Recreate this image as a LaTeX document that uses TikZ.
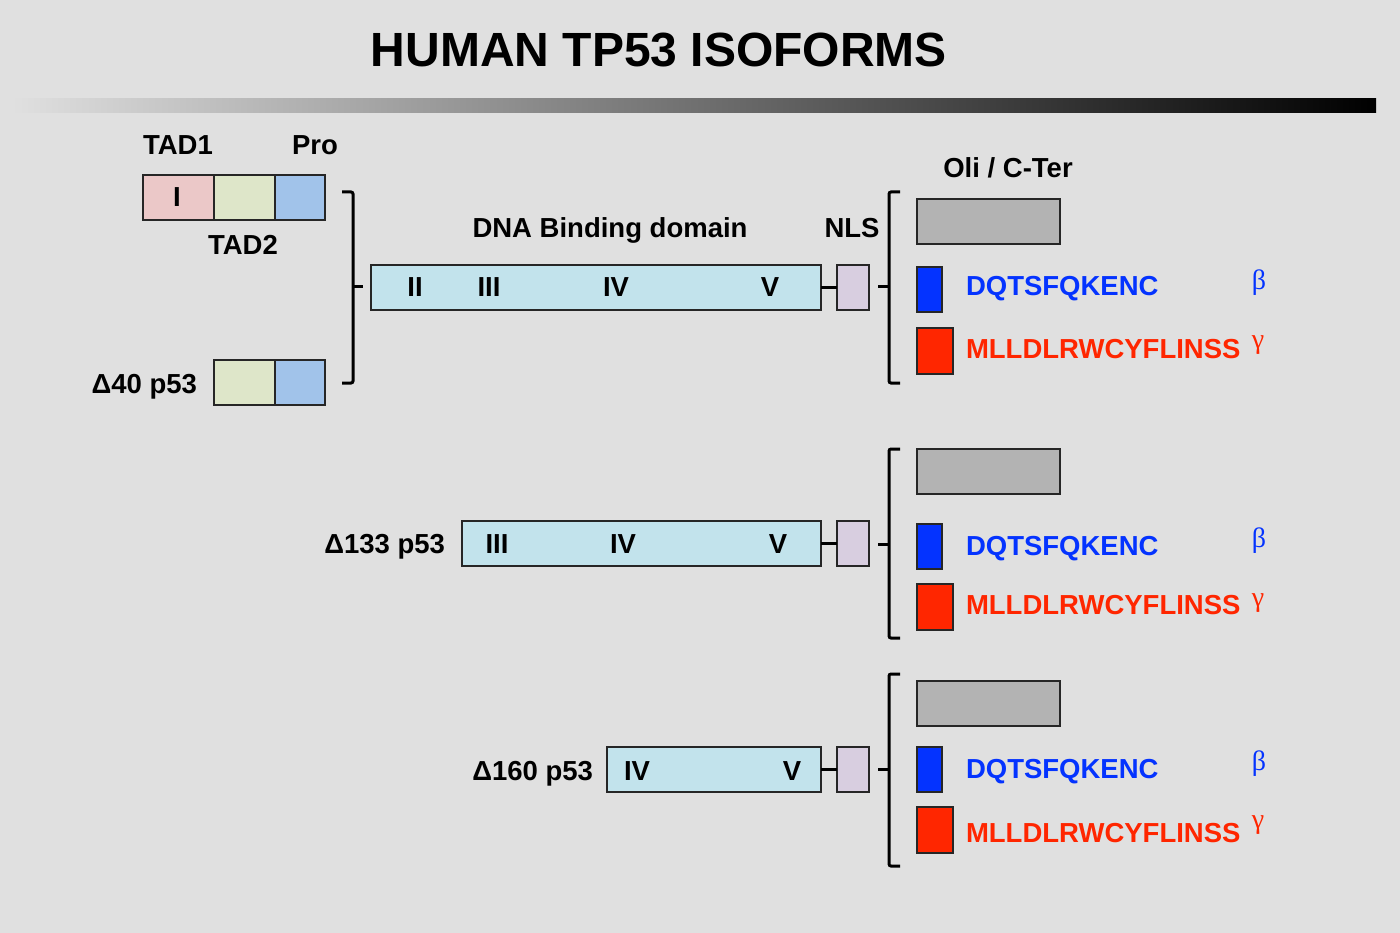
\documentclass[tikz,border=0pt]{standalone}
\usepackage{fontspec}
\setmainfont{Liberation Sans}
\newfontfamily\grk{Liberation Serif}
\definecolor{bgc}{RGB}{224,224,224}
\definecolor{pinkc}{RGB}{235,200,200}
\definecolor{greenc}{RGB}{222,230,201}
\definecolor{proc}{RGB}{161,195,234}
\definecolor{dnac}{RGB}{194,227,236}
\definecolor{nlsc}{RGB}{216,206,224}
\definecolor{grayc}{RGB}{179,179,179}
\definecolor{bluec}{RGB}{4,51,255}
\definecolor{redc}{RGB}{255,38,0}
\begin{document}
\begin{tikzpicture}[x=1pt,y=-1pt,
  box/.style={draw=black!85, line width=1.2pt, inner sep=0pt, outer sep=0pt, anchor=north west},
  lbl/.style={font=\bfseries\fontsize{27.5}{32}\selectfont, inner sep=0pt, outer sep=0pt},
  grklbl/.style={font=\grk\fontsize{28}{32}\selectfont, inner sep=0pt, outer sep=0pt, anchor=base},
  brk/.style={line width=3pt, rounded corners=2pt},
  link/.style={line width=3pt}]
\fill[bgc] (0,0) rectangle (1400,933);
\useasboundingbox (0,0) rectangle (1400,933);
% title
\node[font=\bfseries\fontsize{48}{56}\selectfont, inner sep=0pt, anchor=base] (title) at (659,67) {HUMAN TP53 ISOFORMS};
\shade[left color=bgc, right color=black] (12,99) rectangle (1376,113);
% N-terminal domains
\node[box, fill=pinkc, minimum width=71, minimum height=45] (tad1) at (143,175) {};
\node[box, fill=greenc, minimum width=61, minimum height=45] (tad2) at (214,175) {};
\node[box, fill=proc, minimum width=50, minimum height=45] (pro) at (275,175) {};
\node[lbl, anchor=base] (tI) at (177,207) {I};
\node[lbl, anchor=base] (tad1l) at (178,155) {TAD1};
\node[lbl, anchor=base] (prol) at (315,155) {Pro};
\node[lbl, anchor=base] (tad2l) at (243,255) {TAD2};
\node[box, fill=greenc, minimum width=61, minimum height=45] (d40g) at (214,360) {};
\node[box, fill=proc, minimum width=50, minimum height=45] (d40p) at (275,360) {};
\node[lbl, anchor=base east] (d40l) at (197,393) {Δ40 p53};
% left bracket
\draw[brk] (342,192) -- (353,192) -- (353,383) -- (342,383);
\draw[link] (353,287) -- (363,287);
% labels
\node[lbl, anchor=base] (dbd) at (610,238) {DNA Binding domain};
\node[lbl, anchor=base] (nlsl) at (852,238) {NLS};
\node[lbl, anchor=base] (oli) at (1008,178) {Oli / C-Ter};
% DNA binding rows
\node[box, fill=dnac, minimum width=450, minimum height=45] (dna1) at (371,265) {};
\node[box, fill=nlsc, minimum width=32, minimum height=45] (nls1) at (837,265) {};
\draw[link] (dna1.east) -- (nls1.west);
\node[lbl, anchor=base] (r1a) at (415,297) {II};
\node[lbl, anchor=base] (r1b) at (489,297) {III};
\node[lbl, anchor=base] (r1c) at (616,297) {IV};
\node[lbl, anchor=base] (r1d) at (770,297) {V};
\node[box, fill=dnac, minimum width=359, minimum height=45] (dna2) at (462,521) {};
\node[box, fill=nlsc, minimum width=32, minimum height=45] (nls2) at (837,521) {};
\draw[link] (dna2.east) -- (nls2.west);
\node[lbl, anchor=base] (r2b) at (497,553) {III};
\node[lbl, anchor=base] (r2c) at (623,553) {IV};
\node[lbl, anchor=base] (r2d) at (778,553) {V};
\node[lbl, anchor=base east] (d133l) at (445,553) {Δ133 p53};
\node[box, fill=dnac, minimum width=214, minimum height=45] (dna3) at (607,747) {};
\node[box, fill=nlsc, minimum width=32, minimum height=45] (nls3) at (837,747) {};
\draw[link] (dna3.east) -- (nls3.west);
\node[lbl, anchor=base] (r3c) at (637,780) {IV};
\node[lbl, anchor=base] (r3d) at (792,780) {V};
\node[lbl, anchor=base east] (d160l) at (593,780) {Δ160 p53};
% C-terminal groups
\foreach \n/\bt/\bb/\bm/\g/\b/\r/\dq/\ml/\be/\ga in {
  1/192/383/287/199/267/328/296/358/290/348,
  2/449/638/544/449/524/584/555/614/547/606,
  3/674/866/769/681/747/807/778/842/770/828}{
  \draw[brk] (900,\bt) -- (889,\bt) -- (889,\bb) -- (900,\bb);
  \draw[link] (889,\bm) -- (878,\bm);
  \node[box, fill=grayc, minimum width=143, minimum height=45] (gray\n) at (917,\g) {};
  \node[box, fill=bluec, minimum width=25, minimum height=45] (blue\n) at (917,\b) {};
  \node[box, fill=redc, minimum width=36, minimum height=46] (red\n) at (917,\r) {};
  \node[lbl, anchor=base west, text=bluec] (dq\n) at (966,\dq) {DQTSFQKENC};
  \node[lbl, anchor=base west, text=redc] (ml\n) at (966,\ml) {MLLDLRWCYFLINSS};
  \node[grklbl, text=bluec] (beta\n) at (1259,\be) {β};
  \node[grklbl, text=redc] (gamma\n) at (1258,\ga) {γ};
}
\end{tikzpicture}
\end{document}
